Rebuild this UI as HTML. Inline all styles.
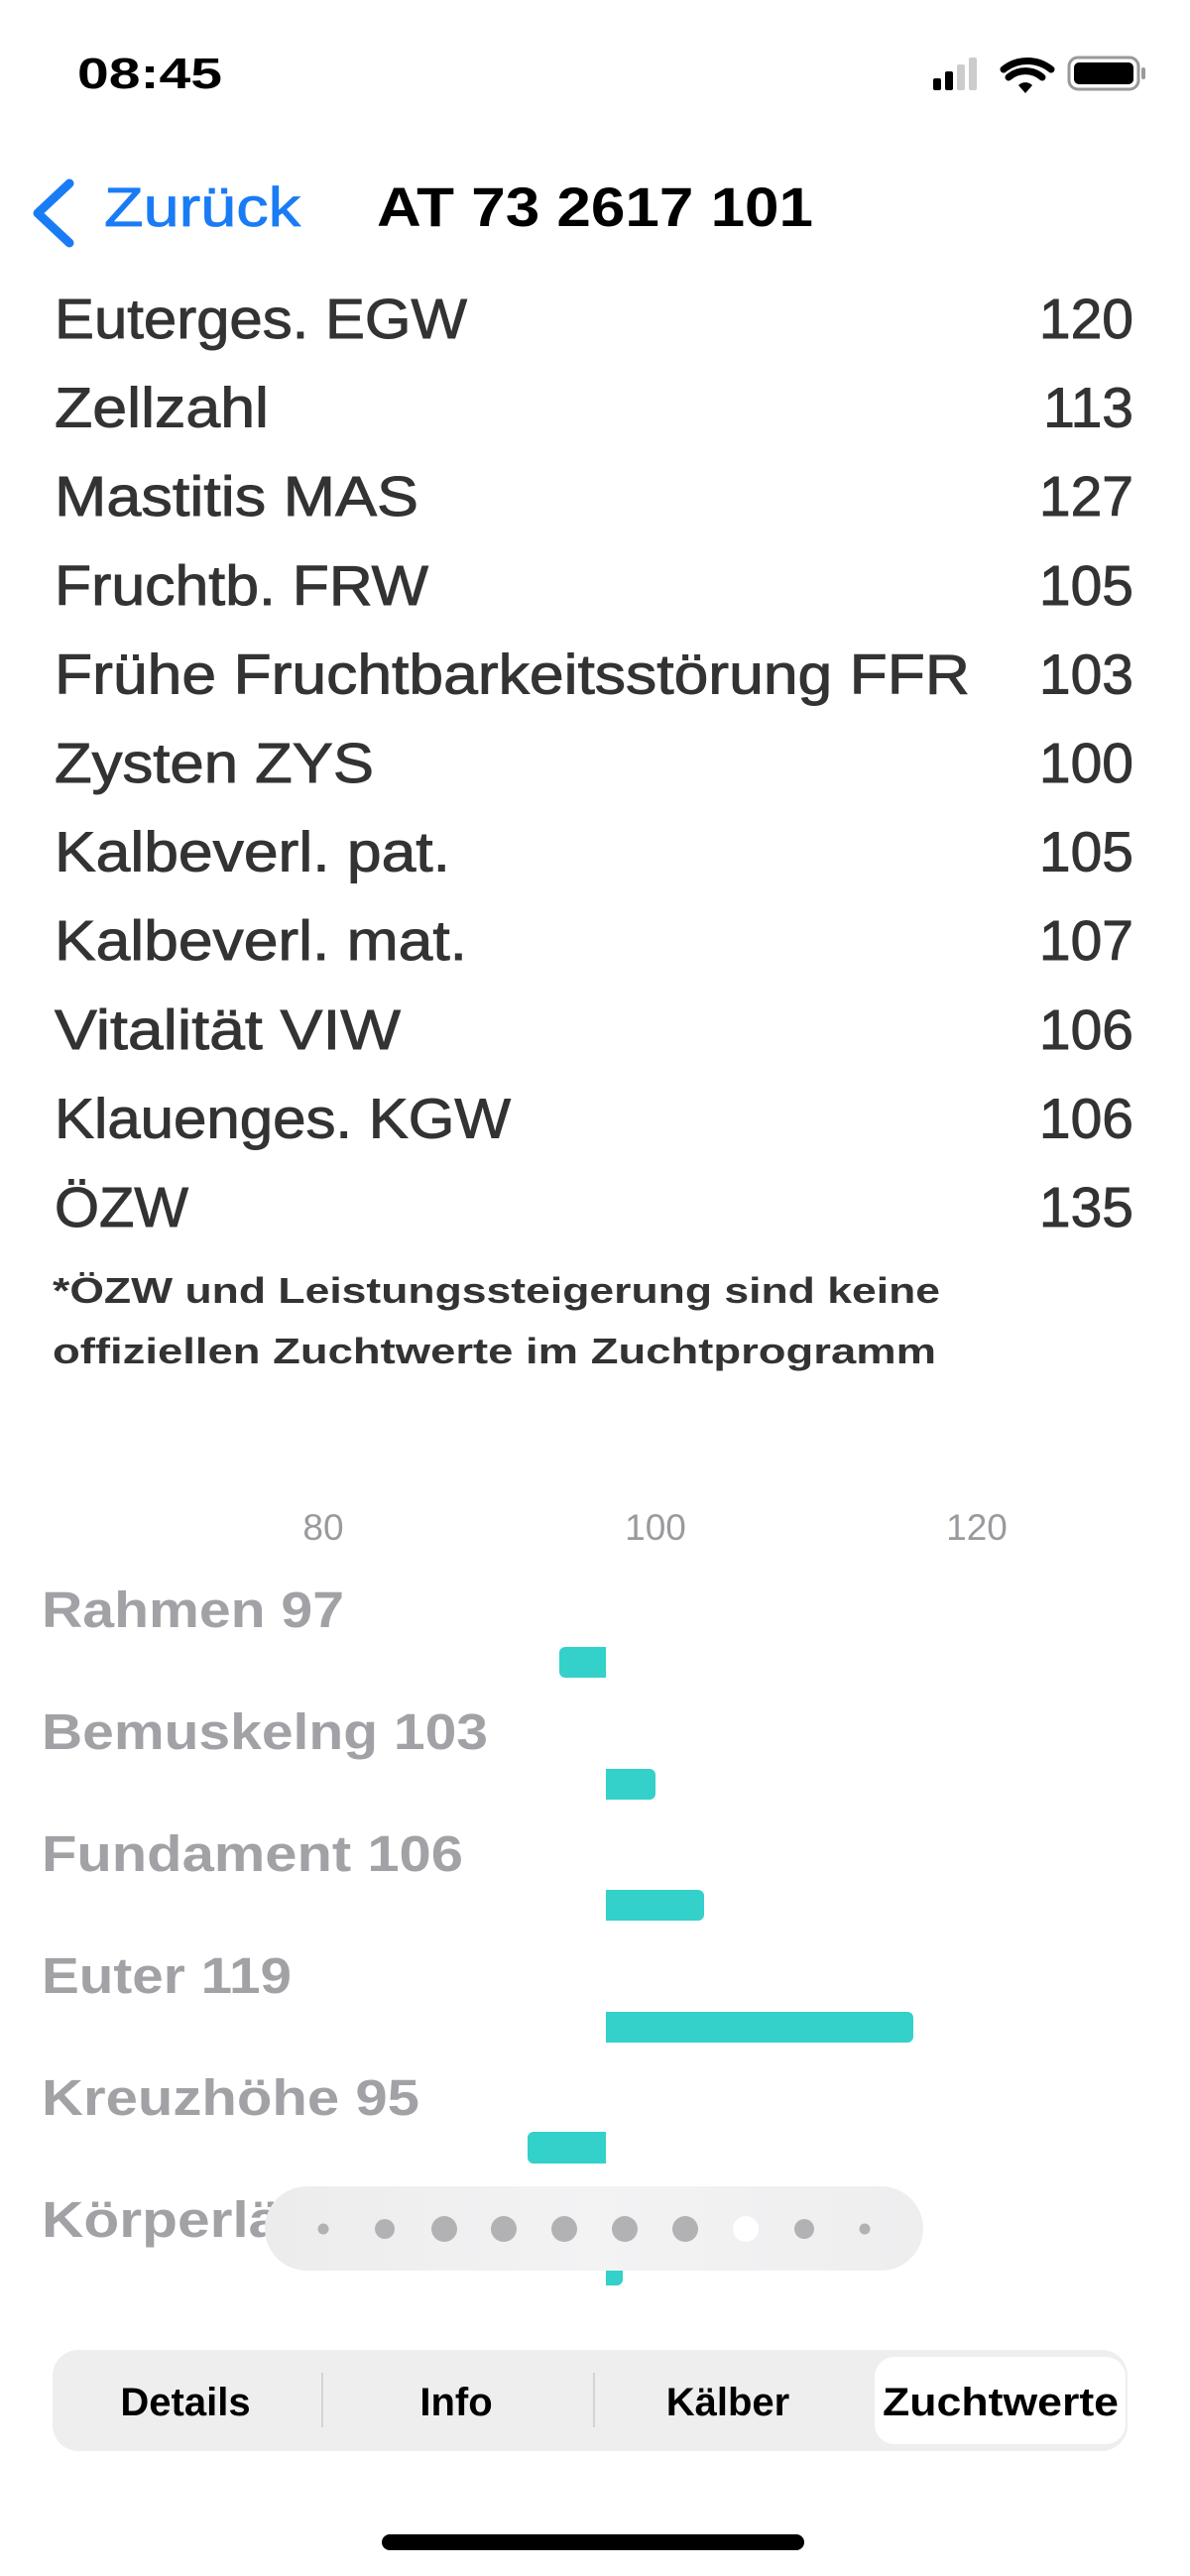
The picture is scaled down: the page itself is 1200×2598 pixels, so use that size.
<!DOCTYPE html>
<html><head><meta charset="utf-8"><style>
html,body{margin:0;padding:0;background:#fff;}
svg{display:block;}
text{font-family:"Liberation Sans",sans-serif;}
</style></head><body>
<svg width="1200" height="2598" viewBox="0 0 1200 2598" xmlns="http://www.w3.org/2000/svg">
<defs>
<linearGradient id="pg" x1="0" y1="0" x2="1" y2="0"><stop offset="0" stop-color="#ececed"/><stop offset="0.5" stop-color="#f3f3f4"/><stop offset="1" stop-color="#eeeeef"/></linearGradient>
</defs>
<!-- status bar -->
<text x="78" y="89" font-size="44" font-weight="bold" fill="#000" textLength="146" lengthAdjust="spacingAndGlyphs">08:45</text>
<rect x="941" y="79" width="8" height="12" rx="2" fill="#000"/>
<rect x="953" y="72" width="8" height="19" rx="2" fill="#000"/>
<rect x="965" y="65" width="8" height="26" rx="2" fill="#ccc"/>
<rect x="977" y="58" width="8" height="33" rx="2" fill="#ccc"/>
<path d="M1016 70 A38 38 0 0 1 1064 70" stroke="#000" stroke-width="7" fill="none" stroke-linecap="round" transform="translate(-4,0)"/>
<path d="M1021 78 A26 26 0 0 1 1055 78" stroke="#000" stroke-width="7" fill="none" stroke-linecap="round" transform="translate(-4,0)"/>
<path d="M1027 86 L1034 94 L1041 86 A10 10 0 0 0 1027 86Z" fill="#000"/>
<rect x="1078" y="58" width="70" height="32" rx="9" fill="none" stroke="#999" stroke-width="3"/>
<rect x="1083" y="63" width="60" height="22" rx="5" fill="#000"/>
<rect x="1151" y="68" width="4" height="12" rx="2" fill="#999"/>
<!-- nav -->
<path d="M70 185 L38 215 L70 245" stroke="#1a7cf5" stroke-width="9" fill="none" stroke-linecap="round" stroke-linejoin="round"/>
<text x="105" y="228" font-size="56" fill="#1a7cf5" stroke="#1a7cf5" stroke-width="0.8" textLength="198" lengthAdjust="spacingAndGlyphs">Zurück</text>
<text x="380" y="228" font-size="56" font-weight="bold" fill="#000" textLength="440" lengthAdjust="spacingAndGlyphs">AT 73 2617 101</text>
<!-- list -->
<g font-size="57" fill="#333" stroke="#333" stroke-width="0.9">
<text x="55" y="341" textLength="416" lengthAdjust="spacingAndGlyphs">Euterges. EGW</text><text x="1143" y="341" text-anchor="end">120</text>
<text x="55" y="430.6" textLength="216" lengthAdjust="spacingAndGlyphs">Zellzahl</text><text x="1143" y="430.6" text-anchor="end">113</text>
<text x="55" y="520.2" textLength="367" lengthAdjust="spacingAndGlyphs">Mastitis MAS</text><text x="1143" y="520.2" text-anchor="end">127</text>
<text x="55" y="609.8" textLength="377" lengthAdjust="spacingAndGlyphs">Fruchtb. FRW</text><text x="1143" y="609.8" text-anchor="end">105</text>
<text x="55" y="699.4" textLength="923" lengthAdjust="spacingAndGlyphs">Frühe Fruchtbarkeitsstörung FFR</text><text x="1143" y="699.4" text-anchor="end">103</text>
<text x="55" y="789" textLength="322" lengthAdjust="spacingAndGlyphs">Zysten ZYS</text><text x="1143" y="789" text-anchor="end">100</text>
<text x="55" y="878.6" textLength="399" lengthAdjust="spacingAndGlyphs">Kalbeverl. pat.</text><text x="1143" y="878.6" text-anchor="end">105</text>
<text x="55" y="968.2" textLength="416" lengthAdjust="spacingAndGlyphs">Kalbeverl. mat.</text><text x="1143" y="968.2" text-anchor="end">107</text>
<text x="55" y="1057.8" textLength="349" lengthAdjust="spacingAndGlyphs">Vitalität VIW</text><text x="1143" y="1057.8" text-anchor="end">106</text>
<text x="55" y="1147.4" textLength="460" lengthAdjust="spacingAndGlyphs">Klauenges. KGW</text><text x="1143" y="1147.4" text-anchor="end">106</text>
<text x="55" y="1237" textLength="135" lengthAdjust="spacingAndGlyphs">ÖZW</text><text x="1143" y="1237" text-anchor="end">135</text>
</g>
<g font-size="36" font-weight="bold" fill="#333">
<text x="53" y="1314" textLength="895" lengthAdjust="spacingAndGlyphs">*ÖZW und Leistungssteigerung sind keine</text>
<text x="53" y="1375" textLength="891" lengthAdjust="spacingAndGlyphs">offiziellen Zuchtwerte im Zuchtprogramm</text>
</g>
<!-- chart -->
<g font-size="37" fill="#9a9a9e">
<text x="326" y="1553" text-anchor="middle">80</text>
<text x="661" y="1553" text-anchor="middle">100</text>
<text x="985" y="1553" text-anchor="middle">120</text>
</g>
<g font-size="51" font-weight="bold" fill="#a1a1a6">
<text x="42" y="1641" textLength="305" lengthAdjust="spacingAndGlyphs">Rahmen 97</text>
<text x="42" y="1764" textLength="450" lengthAdjust="spacingAndGlyphs">Bemuskelng 103</text>
<text x="42" y="1887" textLength="425" lengthAdjust="spacingAndGlyphs">Fundament 106</text>
<text x="42" y="2010" textLength="252" lengthAdjust="spacingAndGlyphs">Euter 119</text>
<text x="42" y="2133" textLength="381" lengthAdjust="spacingAndGlyphs">Kreuzhöhe 95</text>
<text x="42" y="2256" textLength="460" lengthAdjust="spacingAndGlyphs">Körperlänge 101</text>
</g>
<g fill="#33d1c9">
<path d="M611 1661 V1692 H570 a6 6 0 0 1 -6 -6 V1667 a6 6 0 0 1 6 -6Z"/>
<path d="M611 1784 V1815 H655 a6 6 0 0 0 6 -6 V1790 a6 6 0 0 0 -6 -6Z"/>
<path d="M611 1906 V1937 H704 a6 6 0 0 0 6 -6 V1912 a6 6 0 0 0 -6 -6Z"/>
<path d="M611 2029 V2060 H915 a6 6 0 0 0 6 -6 V2035 a6 6 0 0 0 -6 -6Z"/>
<path d="M611 2150 V2182 H538 a6 6 0 0 1 -6 -6 V2156 a6 6 0 0 1 6 -6Z"/>
<path d="M611 2274 V2305 H622 a6 6 0 0 0 6 -6 V2280 a6 6 0 0 0 -6 -6Z"/>
</g>
<!-- page indicator pill -->
<rect x="267" y="2205" width="664" height="85" rx="42.5" fill="url(#pg)"/>
<g fill="#b2b2b4">
<circle cx="326" cy="2248" r="5.5"/>
<circle cx="388" cy="2248" r="10"/>
<circle cx="448" cy="2248" r="13"/>
<circle cx="508" cy="2248" r="13"/>
<circle cx="569" cy="2248" r="13"/>
<circle cx="630" cy="2248" r="13"/>
<circle cx="691" cy="2248" r="13"/>
<circle cx="811" cy="2248" r="10"/>
<circle cx="872" cy="2248" r="5.5"/>
</g>
<circle cx="752" cy="2248" r="13" fill="#fff"/>
<!-- segmented control -->
<rect x="53" y="2370" width="1084" height="102" rx="26" fill="#eeeeef"/>
<rect x="882" y="2377" width="253" height="88" rx="20" fill="#fff"/>
<rect x="324" y="2393" width="2" height="55" fill="#d4d4d6"/>
<rect x="598" y="2393" width="2" height="55" fill="#d4d4d6"/>
<g font-size="40" font-weight="bold" fill="#000" text-anchor="middle">
<text x="187" y="2436">Details</text>
<text x="460" y="2436">Info</text>
<text x="734" y="2436">Kälber</text>
<text x="1009" y="2436" textLength="238" lengthAdjust="spacingAndGlyphs">Zuchtwerte</text>
</g>
<rect x="385" y="2556" width="426" height="16" rx="8" fill="#000"/>
</svg>
</body></html>
